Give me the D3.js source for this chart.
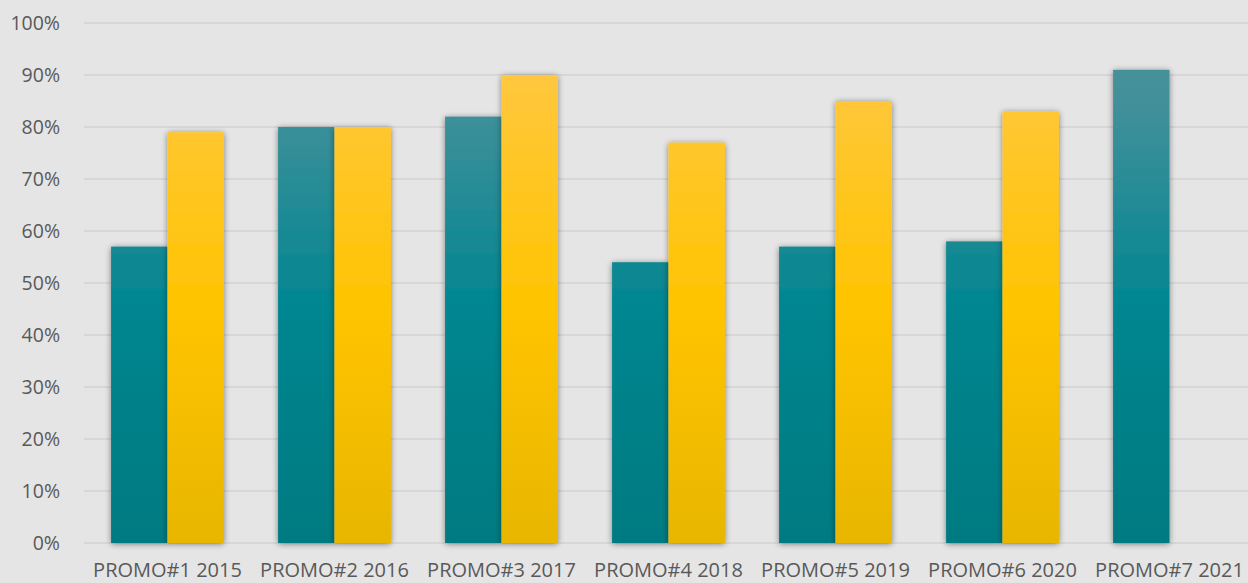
<!DOCTYPE html>
<html lang="en">
<head>
<meta charset="UTF-8" />
<title>Promo chart</title>
<script src="https://d3js.org/d3.v7.min.js"></script>
<style>
  body { margin: 0; background: #e5e5e5; }
  svg { display: block; }
</style>
</head>
<body>
<div id="container"></div>
<script>
const categories = ["PROMO#1 2015", "PROMO#2 2016", "PROMO#3 2017", "PROMO#4 2018", "PROMO#5 2019", "PROMO#6 2020", "PROMO#7 2021"]
const tealValues = [57, 80, 82, 54, 57, 58, 91]
const goldValues = [79, 80, 90, 77, 85, 83, null]
const yTicks = [0, 10, 20, 30, 40, 50, 60, 70, 80, 90, 100]

const width = 1248
const height = 583
const margin = { top: 23, right: -5, bottom: 40, left: 84 }

const svg = d3.select("#container")
    .append("svg")
    .attr("width", width)
    .attr("height", height)

svg.append("rect")
    .attr("width", width)
    .attr("height", height)
    .attr("fill", "#e5e5e5")

const defs = svg.append("defs")

function gradient(id, stops) {
    const g = defs.append("linearGradient")
        .attr("id", id)
        .attr("gradientUnits", "userSpaceOnUse")
        .attr("x1", 0).attr("x2", 0)
        .attr("y1", margin.top).attr("y2", height - margin.bottom)
    stops.forEach(s => g.append("stop").attr("offset", s[0]).attr("stop-color", s[1]))
}
gradient("tealGrad", [[0, "#4a9198"], [0.15, "#42909a"], [0.55, "#008690"], [1, "#007a81"]])
gradient("goldGrad", [[0, "#ffc84c"], [0.55, "#ffc400"], [1, "#e8b600"]])

const shadow = defs.append("filter")
    .attr("id", "shadow")
    .attr("x", "-30%").attr("y", "-10%")
    .attr("width", "160%").attr("height", "120%")
shadow.append("feGaussianBlur").attr("in", "SourceAlpha").attr("stdDeviation", 3)
shadow.append("feOffset").attr("dx", 0).attr("dy", 1).attr("result", "blur")
shadow.append("feComponentTransfer").append("feFuncA").attr("type", "linear").attr("slope", 0.45)
const merge = shadow.append("feMerge")
merge.append("feMergeNode")
merge.append("feMergeNode").attr("in", "SourceGraphic")

const x = d3.scaleBand()
    .domain(categories)
    .range([margin.left, width - margin.right])

const x1 = d3.scaleBand()
    .domain(["teal", "gold"])
    .range([0, x.bandwidth()])
    .paddingInner(0)
    .paddingOuter(0.48)

const y = d3.scaleLinear()
    .domain([0, 100])
    .range([height - margin.bottom, margin.top])

// gridlines
svg.append("g")
    .selectAll("line")
    .data(yTicks)
    .join("line")
    .attr("x1", margin.left)
    .attr("x2", width)
    .attr("y1", d => y(d))
    .attr("y2", d => y(d))
    .attr("stroke", "#d7d7d7")
    .attr("stroke-width", 1.8)

// y axis
const yAxis = svg.append("g")
    .attr("transform", `translate(60,0)`)
    .call(d3.axisLeft(y).tickValues(yTicks).tickFormat(d => d + "%").tickSize(0))
yAxis.select(".domain").remove()
yAxis.selectAll("text")
    .attr("x", 0)
    .attr("fill", "#595959")
    .style("font-family", "'Open Sans', sans-serif")
    .style("font-size", "19.5px")

// x axis
const xAxis = svg.append("g")
    .attr("transform", `translate(0,${height - margin.bottom})`)
    .call(d3.axisBottom(x).tickSize(0))
xAxis.select(".domain").remove()
xAxis.selectAll("text")
    .attr("y", 20)
    .attr("fill", "#595959")
    .style("font-family", "'Open Sans', sans-serif")
    .style("font-size", "20px")

const rows = categories.map((c, i) => ({ cat: c, teal: tealValues[i], gold: goldValues[i] }))

const groups = svg.append("g")
    .selectAll("g")
    .data(rows)
    .join("g")
    .attr("transform", d => `translate(${x(d.cat)},0)`)

groups.selectAll("rect")
    .data(d => [
        { key: "teal", value: d.teal },
        { key: "gold", value: d.gold }
    ].filter(s => s.value != null))
    .join("rect")
    .attr("x", d => x1(d.key))
    .attr("width", x1.bandwidth())
    .attr("y", d => y(d.value))
    .attr("height", d => y(0) - y(d.value))
    .attr("fill", d => d.key === "teal" ? "url(#tealGrad)" : "url(#goldGrad)")
    .attr("filter", "url(#shadow)")
</script>
</body>
</html>
